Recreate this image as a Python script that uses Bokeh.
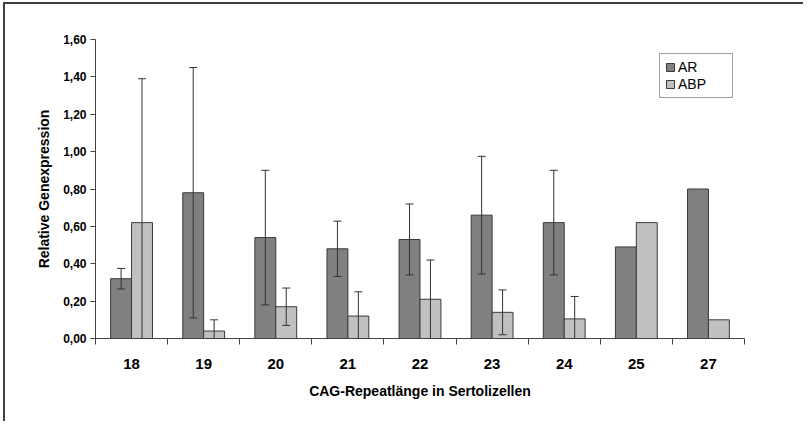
import numpy as np
from bokeh.plotting import figure
from bokeh.models import (ColumnDataSource, FixedTicker, Whisker, TeeHead,
                          Legend, LegendItem, Range1d, InlineStyleSheet)
from bokeh.embed import file_html
from bokeh.resources import INLINE

categories = ["18", "19", "20", "21", "22", "23", "24", "25", "27"]
ar_values = [0.32, 0.78, 0.54, 0.48, 0.53, 0.66, 0.62, 0.49, 0.80]
ar_errors = [0.055, 0.67, 0.36, 0.148, 0.19, 0.315, 0.28, np.nan, np.nan]
abp_values = [0.62, 0.04, 0.17, 0.12, 0.21, 0.14, 0.105, 0.62, 0.10]
abp_errors = [0.77, 0.06, 0.10, 0.13, 0.21, 0.12, 0.12, np.nan, np.nan]
y_ticks = [0.0, 0.2, 0.4, 0.6, 0.8, 1.0, 1.2, 1.4, 1.6]
y_tick_labels = ["0,00", "0,20", "0,40", "0,60", "0,80", "1,00", "1,20", "1,40", "1,60"]

FONT = "Liberation Sans"
AR_COLOR = "#808080"
ABP_COLOR = "#c0c0c0"
EDGE = "#3a3a3a"

n = len(categories)
centers = np.arange(n) + 0.5
bar_w = 0.29

p = figure(width=800, height=419, output_backend="svg", toolbar_location=None,
           x_range=Range1d(0, n), y_range=Range1d(0, 1.6),
           min_border_left=90, min_border_right=61, min_border_top=35,
           min_border_bottom=85)
p.outline_line_color = None
p.grid.visible = False
p.stylesheets = [InlineStyleSheet(css=":host { border-top: 2px solid #404040; border-left: 2px solid #404040; margin-left: 3px; margin-top: 2px; }")]

ar_src = ColumnDataSource(dict(x=centers - bar_w / 2, top=ar_values))
abp_src = ColumnDataSource(dict(x=centers + bar_w / 2, top=abp_values))
r_ar = p.vbar(x="x", top="top", width=bar_w, source=ar_src, fill_color=AR_COLOR,
              line_color=EDGE, line_width=1)
r_abp = p.vbar(x="x", top="top", width=bar_w, source=abp_src, fill_color=ABP_COLOR,
               line_color=EDGE, line_width=1)

def add_err(xs, vals, errs):
    xs = np.asarray(xs); vals = np.asarray(vals, float); errs = np.asarray(errs, float)
    m = ~np.isnan(errs)
    src = ColumnDataSource(dict(x=xs[m], lo=np.maximum(0, vals[m] - errs[m]),
                                hi=vals[m] + errs[m]))
    w = Whisker(source=src, base="x", lower="lo", upper="hi", line_color="#333333",
                line_width=1, level="overlay",
                upper_head=TeeHead(size=8, line_color="#333333", line_width=1),
                lower_head=TeeHead(size=8, line_color="#333333", line_width=1))
    p.add_layout(w)

add_err(centers - bar_w / 2, ar_values, ar_errors)
add_err(centers + bar_w / 2, abp_values, abp_errors)

# y axis
p.yaxis.ticker = FixedTicker(ticks=y_ticks)
p.yaxis.major_label_overrides = {t: l for t, l in zip(y_ticks, y_tick_labels)}
p.yaxis.major_tick_out = 5
p.yaxis.major_tick_in = 0
p.yaxis.minor_tick_line_color = None
p.yaxis.axis_line_color = "#444444"
p.yaxis.major_tick_line_color = "#444444"
p.yaxis.major_label_text_font = FONT
p.yaxis.major_label_text_font_style = "bold"
p.yaxis.major_label_text_font_size = "12px"
p.yaxis.major_label_text_color = "#000000"
p.yaxis.major_label_standoff = 4
p.yaxis.axis_label = "Relative Genexpression"
p.yaxis.axis_label_text_font = FONT
p.yaxis.axis_label_text_font_style = "bold"
p.yaxis.axis_label_text_font_size = "14px"
p.yaxis.axis_label_text_color = "#000000"
p.yaxis.axis_label_standoff = 8

# x axis
p.xaxis.ticker = FixedTicker(ticks=list(centers), minor_ticks=list(range(n + 1)))
p.xaxis.major_label_overrides = {float(c): cat for c, cat in zip(centers, categories)}
p.xaxis.major_tick_line_color = None
p.xaxis.minor_tick_out = 6
p.xaxis.minor_tick_in = 0
p.xaxis.minor_tick_line_color = "#444444"
p.xaxis.axis_line_color = "#444444"
p.xaxis.major_label_text_font = FONT
p.xaxis.major_label_text_font_style = "bold"
p.xaxis.major_label_text_font_size = "15px"
p.xaxis.major_label_text_color = "#000000"
p.xaxis.major_tick_out = 0
p.xaxis.major_label_standoff = 14
p.xaxis.axis_label = "CAG-Repeatlänge in Sertolizellen"
p.xaxis.axis_label_text_font = FONT
p.xaxis.axis_label_text_font_style = "bold"
p.xaxis.axis_label_text_font_size = "14px"
p.xaxis.axis_label_text_color = "#000000"
p.xaxis.axis_label_standoff = 11

legend = Legend(items=[LegendItem(label="AR", renderers=[r_ar]),
                       LegendItem(label="ABP", renderers=[r_abp])],
                location=(564, 240))
legend.label_text_font = FONT
legend.label_text_font_size = "14px"
legend.label_text_color = "#000000"
legend.glyph_width = 10
legend.glyph_height = 10
legend.label_standoff = 3
legend.padding = 5
legend.spacing = 1
legend.label_height = 12
legend.label_width = 49
legend.margin = 0
legend.border_line_color = "#444444"
legend.border_line_width = 1
legend.background_fill_alpha = 1
p.add_layout(legend)

open("out.html", "w").write(file_html(p, INLINE))
